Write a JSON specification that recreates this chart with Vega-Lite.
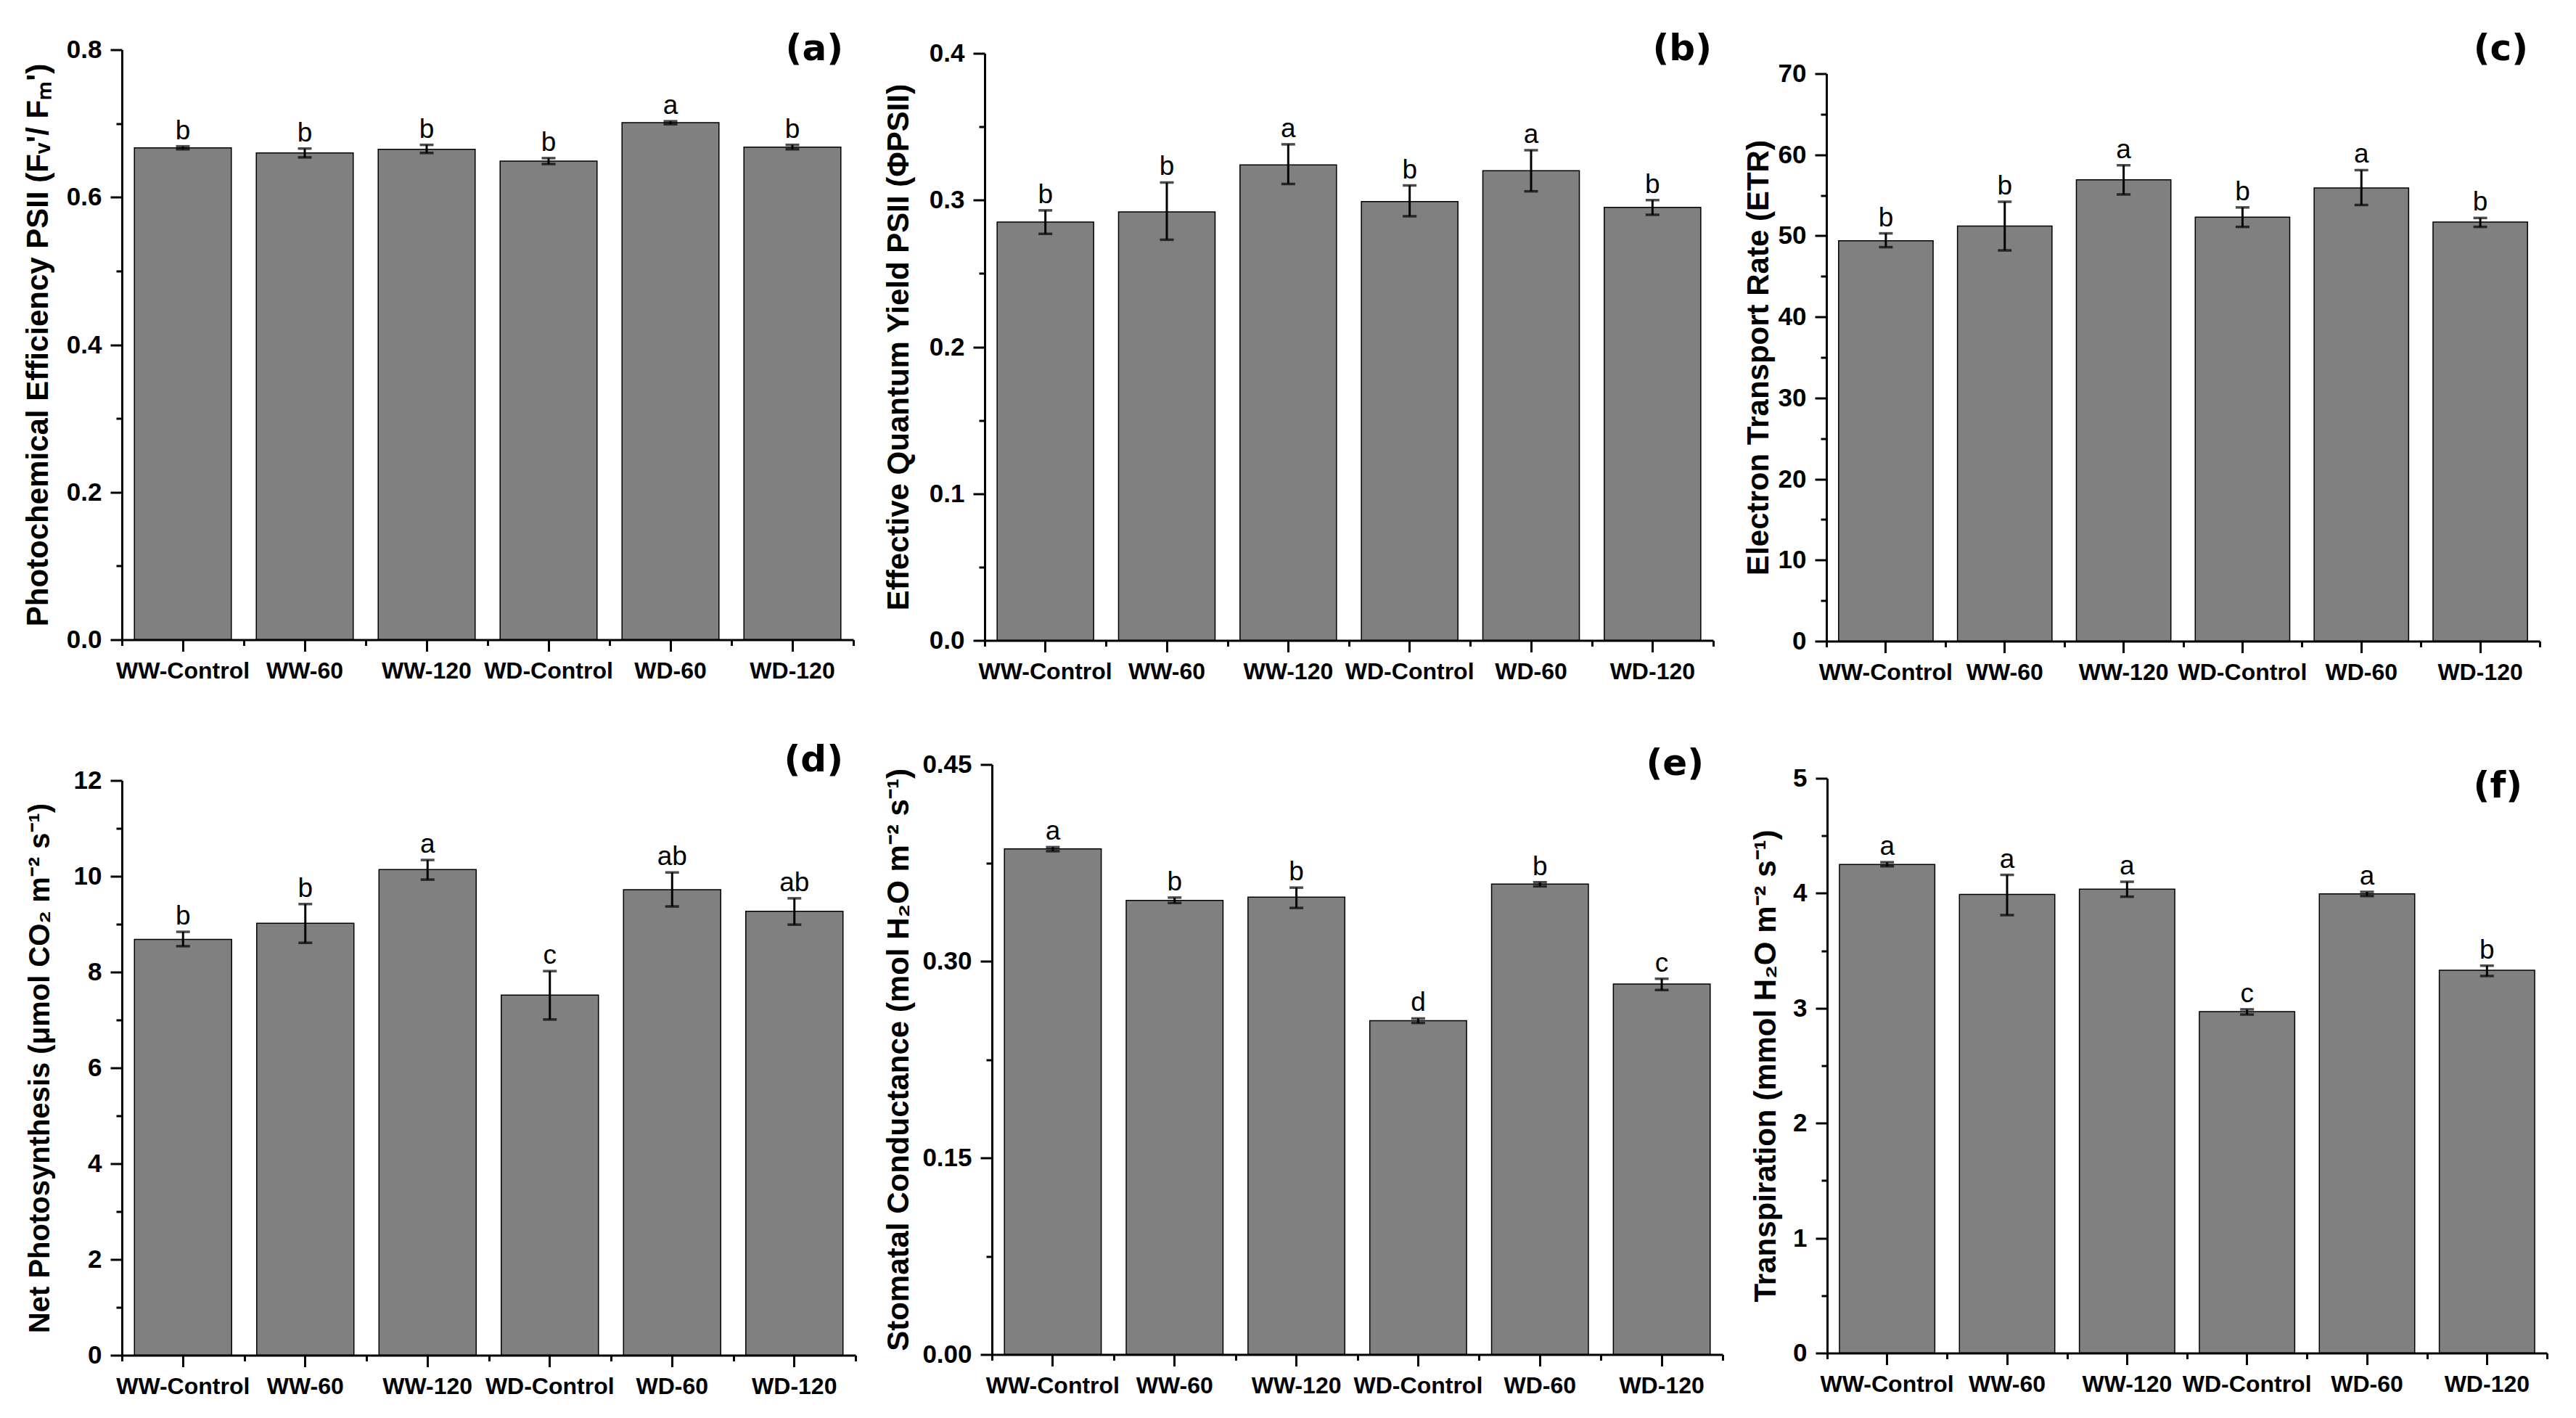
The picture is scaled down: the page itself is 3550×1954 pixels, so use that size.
{
  "$schema": "https://vega.github.io/schema/vega-lite/v6.json",
  "background": "white",
  "padding": {"left": 31, "top": 18.5, "right": 20, "bottom": 10},
  "config": {
    "view": {"stroke": null},
    "axis": {
      "domainColor": "black", "domainWidth": 3,
      "tickColor": "black", "tickWidth": 3, "tickSize": 16,
      "labelColor": "black", "labelFont": "Liberation Sans", "labelFontWeight": "bold",
      "titleColor": "black", "titleFont": "Liberation Sans", "titleFontWeight": "bold",
      "grid": false, "labelFlush": false, "labelOverlap": false, "labelLimit": 0
    },
    "axisX": {"labelFontSize": 32, "labelPadding": 12, "labelAngle": 0},
    "axisY": {"labelFontSize": 35, "labelPadding": 12, "titleFontSize": 42},
    "title": {"font": "DejaVu Sans", "fontSize": 50, "fontWeight": "bold", "color": "black", "anchor": "end", "frame": "group"}
  },
  "datasets": {
    "pe": [
      {"g": "WW-Control", "v": 0.667, "lo": 0.665, "hi": 0.669, "sig": "b"},
      {"g": "WW-60", "v": 0.660, "lo": 0.654, "hi": 0.666, "sig": "b"},
      {"g": "WW-120", "v": 0.665, "lo": 0.660, "hi": 0.671, "sig": "b"},
      {"g": "WD-Control", "v": 0.649, "lo": 0.645, "hi": 0.653, "sig": "b"},
      {"g": "WD-60", "v": 0.701, "lo": 0.699, "hi": 0.703, "sig": "a"},
      {"g": "WD-120", "v": 0.668, "lo": 0.665, "hi": 0.671, "sig": "b"}
    ],
    "qy": [
      {"g": "WW-Control", "v": 0.285, "lo": 0.277, "hi": 0.293, "sig": "b"},
      {"g": "WW-60", "v": 0.292, "lo": 0.273, "hi": 0.312, "sig": "b"},
      {"g": "WW-120", "v": 0.324, "lo": 0.311, "hi": 0.338, "sig": "a"},
      {"g": "WD-Control", "v": 0.299, "lo": 0.289, "hi": 0.310, "sig": "b"},
      {"g": "WD-60", "v": 0.320, "lo": 0.306, "hi": 0.334, "sig": "a"},
      {"g": "WD-120", "v": 0.295, "lo": 0.290, "hi": 0.300, "sig": "b"}
    ],
    "etr": [
      {"g": "WW-Control", "v": 49.4, "lo": 48.6, "hi": 50.3, "sig": "b"},
      {"g": "WW-60", "v": 51.2, "lo": 48.2, "hi": 54.2, "sig": "b"},
      {"g": "WW-120", "v": 56.9, "lo": 55.1, "hi": 58.7, "sig": "a"},
      {"g": "WD-Control", "v": 52.3, "lo": 51.1, "hi": 53.5, "sig": "b"},
      {"g": "WD-60", "v": 55.9, "lo": 53.8, "hi": 58.1, "sig": "a"},
      {"g": "WD-120", "v": 51.7, "lo": 51.1, "hi": 52.2, "sig": "b"}
    ],
    "pn": [
      {"g": "WW-Control", "v": 8.68, "lo": 8.54, "hi": 8.84, "sig": "b"},
      {"g": "WW-60", "v": 9.02, "lo": 8.61, "hi": 9.42, "sig": "b"},
      {"g": "WW-120", "v": 10.14, "lo": 9.93, "hi": 10.34, "sig": "a"},
      {"g": "WD-Control", "v": 7.52, "lo": 7.01, "hi": 8.02, "sig": "c"},
      {"g": "WD-60", "v": 9.72, "lo": 9.37, "hi": 10.08, "sig": "ab"},
      {"g": "WD-120", "v": 9.27, "lo": 8.99, "hi": 9.54, "sig": "ab"}
    ],
    "gs": [
      {"g": "WW-Control", "v": 0.3857, "lo": 0.3839, "hi": 0.3870, "sig": "a"},
      {"g": "WW-60", "v": 0.3464, "lo": 0.3444, "hi": 0.3485, "sig": "b"},
      {"g": "WW-120", "v": 0.3489, "lo": 0.3406, "hi": 0.3561, "sig": "b"},
      {"g": "WD-Control", "v": 0.2546, "lo": 0.2529, "hi": 0.2563, "sig": "d"},
      {"g": "WD-60", "v": 0.3588, "lo": 0.3571, "hi": 0.3602, "sig": "b"},
      {"g": "WD-120", "v": 0.2825, "lo": 0.2780, "hi": 0.2866, "sig": "c"}
    ],
    "tr": [
      {"g": "WW-Control", "v": 4.25, "lo": 4.235, "hi": 4.27, "sig": "a"},
      {"g": "WW-60", "v": 3.99, "lo": 3.81, "hi": 4.16, "sig": "a"},
      {"g": "WW-120", "v": 4.035, "lo": 3.97, "hi": 4.10, "sig": "a"},
      {"g": "WD-Control", "v": 2.97, "lo": 2.945, "hi": 2.99, "sig": "c"},
      {"g": "WD-60", "v": 3.995, "lo": 3.976, "hi": 4.012, "sig": "a"},
      {"g": "WD-120", "v": 3.33, "lo": 3.28, "hi": 3.37, "sig": "b"}
    ]
  },
  "columns": 3,
  "align": "none",
  "spacing": {"row": 23, "column": 36},
  "concat": [
    {"width": 1, "height": 1, "data": {"values": []}, "mark": "point"},
    {"width": 1, "height": 1, "data": {"values": []}, "mark": "point"},
    {"width": 1, "height": 1, "data": {"values": []}, "mark": "point"},
    {
      "width": 1008, "height": 813,
      "data": {"name": "pe"},
      "title": {"text": "(a)", "offset": -41, "dx": -14},
      "layer": [
        {"mark": {"type": "bar", "width": {"band": 0.795}, "fill": "#808080", "stroke": "black", "strokeWidth": 1.5},
         "encoding": {
           "x": {"field": "g", "type": "nominal", "sort": null, "scale": {"paddingInner": 0, "paddingOuter": 0}, "axis": {"title": null, "orient": "bottom", "zindex": 1}},
           "y": {"field": "v", "type": "quantitative", "scale": {"domain": [0, 0.8], "nice": false}, "axis": {"title": "Photochemical Efficiency PSII (Fᵥ'/ Fₘ')", "orient": "left", "values": [0, 0.2, 0.4, 0.6, 0.8], "format": ".1f", "titlePadding": 17.3, "zindex": 1}}
         }},
        {"mark": {"type": "rule", "color": "black", "strokeWidth": 3},
         "encoding": {
           "x": {"field": "g", "type": "nominal", "sort": null, "axis": {"title": null, "orient": "bottom", "labels": false, "domain": false, "tickBand": "extent", "tickSize": 8, "zindex": 1}},
           "y": {"field": "lo", "type": "quantitative", "axis": {"title": null, "orient": "left", "labels": false, "domain": false, "values": [0.1, 0.3, 0.5, 0.7], "tickSize": 8}},
           "y2": {"field": "hi"}
         }},
        {"mark": {"type": "tick", "color": "black", "size": 19, "thickness": 3.5},
         "encoding": {"x": {"field": "g", "type": "nominal", "sort": null, "axis": null}, "y": {"field": "lo", "type": "quantitative", "axis": null}}},
        {"mark": {"type": "tick", "color": "black", "size": 19, "thickness": 3.5},
         "encoding": {"x": {"field": "g", "type": "nominal", "sort": null, "axis": null}, "y": {"field": "hi", "type": "quantitative", "axis": null}}},
        {"mark": {"type": "text", "font": "Liberation Sans", "fontSize": 37, "baseline": "alphabetic", "dy": -10, "color": "black"},
         "encoding": {"x": {"field": "g", "type": "nominal", "sort": null, "axis": null}, "y": {"field": "hi", "type": "quantitative", "axis": null}, "text": {"field": "sig"}}}
      ],
      "resolve": {"axis": {"x": "independent", "y": "independent"}}
    },
    {
      "width": 1004, "height": 809,
      "data": {"name": "qy"},
      "title": {"text": "(b)", "offset": -36, "dx": -2},
      "layer": [
        {"mark": {"type": "bar", "width": {"band": 0.795}, "fill": "#808080", "stroke": "black", "strokeWidth": 1.5},
         "encoding": {
           "x": {"field": "g", "type": "nominal", "sort": null, "scale": {"paddingInner": 0, "paddingOuter": 0}, "axis": {"title": null, "orient": "bottom", "zindex": 1}},
           "y": {"field": "v", "type": "quantitative", "scale": {"domain": [0, 0.4], "nice": false}, "axis": {"title": "Effective Quantum Yield PSII (ΦPSII)", "orient": "left", "values": [0, 0.1, 0.2, 0.3, 0.4], "format": ".1f", "titlePadding": 20.3, "zindex": 1}}
         }},
        {"mark": {"type": "rule", "color": "black", "strokeWidth": 3},
         "encoding": {
           "x": {"field": "g", "type": "nominal", "sort": null, "axis": {"title": null, "orient": "bottom", "labels": false, "domain": false, "tickBand": "extent", "tickSize": 8, "zindex": 1}},
           "y": {"field": "lo", "type": "quantitative", "axis": {"title": null, "orient": "left", "labels": false, "domain": false, "values": [0.05, 0.15, 0.25, 0.35], "tickSize": 8}},
           "y2": {"field": "hi"}
         }},
        {"mark": {"type": "tick", "color": "black", "size": 19, "thickness": 3.5},
         "encoding": {"x": {"field": "g", "type": "nominal", "sort": null, "axis": null}, "y": {"field": "lo", "type": "quantitative", "axis": null}}},
        {"mark": {"type": "tick", "color": "black", "size": 19, "thickness": 3.5},
         "encoding": {"x": {"field": "g", "type": "nominal", "sort": null, "axis": null}, "y": {"field": "hi", "type": "quantitative", "axis": null}}},
        {"mark": {"type": "text", "font": "Liberation Sans", "fontSize": 37, "baseline": "alphabetic", "dy": -10, "color": "black"},
         "encoding": {"x": {"field": "g", "type": "nominal", "sort": null, "axis": null}, "y": {"field": "hi", "type": "quantitative", "axis": null}, "text": {"field": "sig"}}}
      ],
      "resolve": {"axis": {"x": "independent", "y": "independent"}}
    },
    {
      "width": 983, "height": 782,
      "data": {"name": "etr"},
      "title": {"text": "(c)", "offset": -8, "dx": -16},
      "layer": [
        {"mark": {"type": "bar", "width": {"band": 0.795}, "fill": "#808080", "stroke": "black", "strokeWidth": 1.5},
         "encoding": {
           "x": {"field": "g", "type": "nominal", "sort": null, "scale": {"paddingInner": 0, "paddingOuter": 0}, "axis": {"title": null, "orient": "bottom", "zindex": 1}},
           "y": {"field": "v", "type": "quantitative", "scale": {"domain": [0, 70], "nice": false}, "axis": {"title": "Electron Transport Rate (ETR)", "orient": "left", "values": [0, 10, 20, 30, 40, 50, 60, 70], "format": "d", "titlePadding": 4.1, "zindex": 1}}
         }},
        {"mark": {"type": "rule", "color": "black", "strokeWidth": 3},
         "encoding": {
           "x": {"field": "g", "type": "nominal", "sort": null, "axis": {"title": null, "orient": "bottom", "labels": false, "domain": false, "tickBand": "extent", "tickSize": 8, "zindex": 1}},
           "y": {"field": "lo", "type": "quantitative", "axis": {"title": null, "orient": "left", "labels": false, "domain": false, "values": [5, 15, 25, 35, 45, 55, 65], "tickSize": 8}},
           "y2": {"field": "hi"}
         }},
        {"mark": {"type": "tick", "color": "black", "size": 19, "thickness": 3.5},
         "encoding": {"x": {"field": "g", "type": "nominal", "sort": null, "axis": null}, "y": {"field": "lo", "type": "quantitative", "axis": null}}},
        {"mark": {"type": "tick", "color": "black", "size": 19, "thickness": 3.5},
         "encoding": {"x": {"field": "g", "type": "nominal", "sort": null, "axis": null}, "y": {"field": "hi", "type": "quantitative", "axis": null}}},
        {"mark": {"type": "text", "font": "Liberation Sans", "fontSize": 37, "baseline": "alphabetic", "dy": -10, "color": "black"},
         "encoding": {"x": {"field": "g", "type": "nominal", "sort": null, "axis": null}, "y": {"field": "hi", "type": "quantitative", "axis": null}, "text": {"field": "sig"}}}
      ],
      "resolve": {"axis": {"x": "independent", "y": "independent"}}
    },
    {"width": 1, "height": 36, "data": {"values": []}, "mark": "point"},
    {"width": 1, "height": 36, "data": {"values": []}, "mark": "point"},
    {"width": 1, "height": 36, "data": {"values": []}, "mark": "point"},
    {
      "width": 1011, "height": 792,
      "data": {"name": "pn"},
      "title": {"text": "(d)", "offset": -14.5, "dx": -17},
      "layer": [
        {"mark": {"type": "bar", "width": {"band": 0.795}, "fill": "#808080", "stroke": "black", "strokeWidth": 1.5},
         "encoding": {
           "x": {"field": "g", "type": "nominal", "sort": null, "scale": {"paddingInner": 0, "paddingOuter": 0}, "axis": {"title": null, "orient": "bottom", "zindex": 1}},
           "y": {"field": "v", "type": "quantitative", "scale": {"domain": [0, 12], "nice": false}, "axis": {"title": "Net Photosynthesis (μmol CO₂ m⁻² s⁻¹)", "orient": "left", "values": [0, 2, 4, 6, 8, 10, 12], "format": "d", "titleFontSize": 40, "titlePadding": 25.1, "zindex": 1}}
         }},
        {"mark": {"type": "rule", "color": "black", "strokeWidth": 3},
         "encoding": {
           "x": {"field": "g", "type": "nominal", "sort": null, "axis": {"title": null, "orient": "bottom", "labels": false, "domain": false, "tickBand": "extent", "tickSize": 8, "zindex": 1}},
           "y": {"field": "lo", "type": "quantitative", "axis": {"title": null, "orient": "left", "labels": false, "domain": false, "values": [1, 3, 5, 7, 9, 11], "tickSize": 8}},
           "y2": {"field": "hi"}
         }},
        {"mark": {"type": "tick", "color": "black", "size": 19, "thickness": 3.5},
         "encoding": {"x": {"field": "g", "type": "nominal", "sort": null, "axis": null}, "y": {"field": "lo", "type": "quantitative", "axis": null}}},
        {"mark": {"type": "tick", "color": "black", "size": 19, "thickness": 3.5},
         "encoding": {"x": {"field": "g", "type": "nominal", "sort": null, "axis": null}, "y": {"field": "hi", "type": "quantitative", "axis": null}}},
        {"mark": {"type": "text", "font": "Liberation Sans", "fontSize": 37, "baseline": "alphabetic", "dy": -10, "color": "black"},
         "encoding": {"x": {"field": "g", "type": "nominal", "sort": null, "axis": null}, "y": {"field": "hi", "type": "quantitative", "axis": null}, "text": {"field": "sig"}}}
      ],
      "resolve": {"axis": {"x": "independent", "y": "independent"}}
    },
    {
      "width": 1007, "height": 813,
      "data": {"name": "gs"},
      "title": {"text": "(e)", "offset": -41.5, "dx": -26},
      "layer": [
        {"mark": {"type": "bar", "width": {"band": 0.795}, "fill": "#808080", "stroke": "black", "strokeWidth": 1.5},
         "encoding": {
           "x": {"field": "g", "type": "nominal", "sort": null, "scale": {"paddingInner": 0, "paddingOuter": 0}, "axis": {"title": null, "orient": "bottom", "zindex": 1}},
           "y": {"field": "v", "type": "quantitative", "scale": {"domain": [0, 0.45], "nice": false}, "axis": {"title": "Stomatal Conductance (mol H₂O m⁻² s⁻¹)", "orient": "left", "values": [0, 0.15, 0.3, 0.45], "format": ".2f", "titlePadding": 9.9, "zindex": 1}}
         }},
        {"mark": {"type": "rule", "color": "black", "strokeWidth": 3},
         "encoding": {
           "x": {"field": "g", "type": "nominal", "sort": null, "axis": {"title": null, "orient": "bottom", "labels": false, "domain": false, "tickBand": "extent", "tickSize": 8, "zindex": 1}},
           "y": {"field": "lo", "type": "quantitative", "axis": {"title": null, "orient": "left", "labels": false, "domain": false, "values": [0.075, 0.225, 0.375], "tickSize": 8}},
           "y2": {"field": "hi"}
         }},
        {"mark": {"type": "tick", "color": "black", "size": 19, "thickness": 3.5},
         "encoding": {"x": {"field": "g", "type": "nominal", "sort": null, "axis": null}, "y": {"field": "lo", "type": "quantitative", "axis": null}}},
        {"mark": {"type": "tick", "color": "black", "size": 19, "thickness": 3.5},
         "encoding": {"x": {"field": "g", "type": "nominal", "sort": null, "axis": null}, "y": {"field": "hi", "type": "quantitative", "axis": null}}},
        {"mark": {"type": "text", "font": "Liberation Sans", "fontSize": 37, "baseline": "alphabetic", "dy": -10, "color": "black"},
         "encoding": {"x": {"field": "g", "type": "nominal", "sort": null, "axis": null}, "y": {"field": "hi", "type": "quantitative", "axis": null}, "text": {"field": "sig"}}}
      ],
      "resolve": {"axis": {"x": "independent", "y": "independent"}}
    },
    {
      "width": 992, "height": 792,
      "data": {"name": "tr"},
      "title": {"text": "(f)", "offset": -53.5, "dx": -34},
      "layer": [
        {"mark": {"type": "bar", "width": {"band": 0.795}, "fill": "#808080", "stroke": "black", "strokeWidth": 1.5},
         "encoding": {
           "x": {"field": "g", "type": "nominal", "sort": null, "scale": {"paddingInner": 0, "paddingOuter": 0}, "axis": {"title": null, "orient": "bottom", "zindex": 1}},
           "y": {"field": "v", "type": "quantitative", "scale": {"domain": [0, 5], "nice": false}, "axis": {"title": "Transpiration (mmol H₂O m⁻² s⁻¹)", "orient": "left", "values": [0, 1, 2, 3, 4, 5], "format": "d", "titlePadding": 15.5, "zindex": 1}}
         }},
        {"mark": {"type": "rule", "color": "black", "strokeWidth": 3},
         "encoding": {
           "x": {"field": "g", "type": "nominal", "sort": null, "axis": {"title": null, "orient": "bottom", "labels": false, "domain": false, "tickBand": "extent", "tickSize": 8, "zindex": 1}},
           "y": {"field": "lo", "type": "quantitative", "axis": {"title": null, "orient": "left", "labels": false, "domain": false, "values": [0.5, 1.5, 2.5, 3.5, 4.5], "tickSize": 8}},
           "y2": {"field": "hi"}
         }},
        {"mark": {"type": "tick", "color": "black", "size": 19, "thickness": 3.5},
         "encoding": {"x": {"field": "g", "type": "nominal", "sort": null, "axis": null}, "y": {"field": "lo", "type": "quantitative", "axis": null}}},
        {"mark": {"type": "tick", "color": "black", "size": 19, "thickness": 3.5},
         "encoding": {"x": {"field": "g", "type": "nominal", "sort": null, "axis": null}, "y": {"field": "hi", "type": "quantitative", "axis": null}}},
        {"mark": {"type": "text", "font": "Liberation Sans", "fontSize": 37, "baseline": "alphabetic", "dy": -10, "color": "black"},
         "encoding": {"x": {"field": "g", "type": "nominal", "sort": null, "axis": null}, "y": {"field": "hi", "type": "quantitative", "axis": null}, "text": {"field": "sig"}}}
      ],
      "resolve": {"axis": {"x": "independent", "y": "independent"}}
    }
  ]
}
